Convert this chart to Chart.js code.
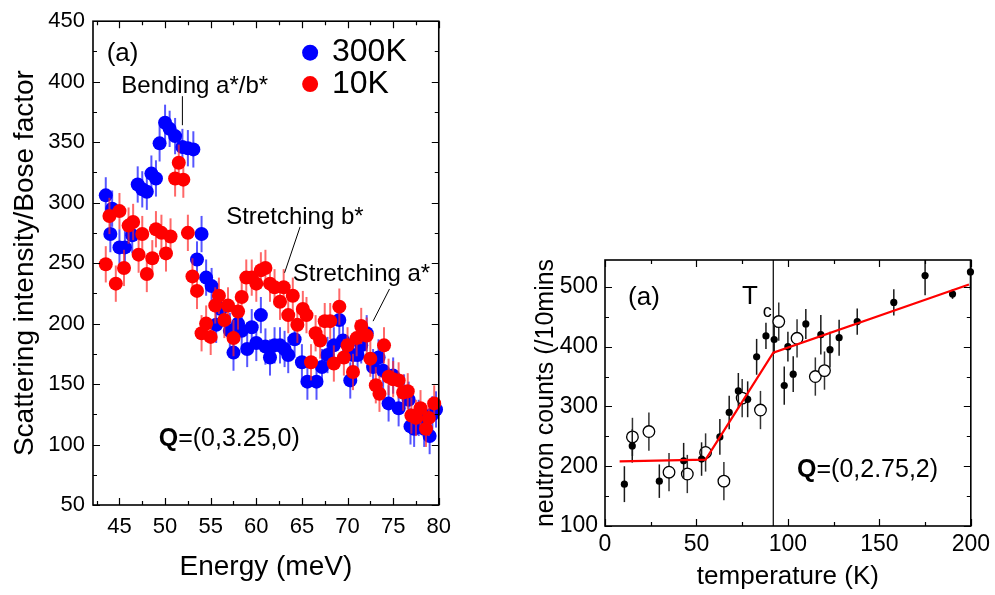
<!DOCTYPE html>
<html>
<head>
<meta charset="utf-8">
<script src="https://cdn.jsdelivr.net/npm/chart.js@4.4.0/dist/chart.umd.min.js"></script>
<style>
    body { margin: 0; background: #fff; width: 995px; height: 595px; overflow: hidden; position: relative; }
    canvas { position: absolute; top: 0; }
    #energyChart { left: 0; }
    #tempChart { left: 500px; }
</style>
</head>
<body>
<canvas id="energyChart" width="460" height="595"></canvas>
<canvas id="tempChart" width="495" height="595"></canvas>
<script>
// left panel: Q=(0,3.25,0)
const energy300 = [43.5, 44.0, 44.2, 45.0, 45.6, 46.4, 47.0, 47.5, 48.0, 48.5, 49.0, 49.4, 50.0, 50.5, 51.1, 51.9, 52.5, 53.1,
    53.5, 54.0, 54.5, 55.1, 55.6, 56.1, 57.1, 57.5, 58.0, 58.4, 59.0, 59.5, 60.0, 60.5, 61.0, 61.5, 62.0, 62.6, 63.1, 63.5,
    64.2, 65.0, 65.6, 66.6, 67.2, 67.8, 68.5, 69.1, 69.5, 70.3, 70.6, 71.1, 71.5, 72.1, 72.8, 73.4, 73.9, 74.5, 75.0, 75.6,
    76.2, 76.7, 76.9, 77.3, 77.8, 78.4, 79.0, 79.3, 79.7];
const intensity300 = [306, 274, 295, 263, 263, 273, 315, 311, 309, 324, 320, 349, 366, 361, 355, 346, 345, 344,
    253, 274, 238, 231, 199, 212, 194, 176, 200, 194, 179, 197, 184, 207, 181, 172, 182, 182, 179, 174,
    187, 168, 152, 152, 164, 174, 182, 203, 186, 153, 174, 174, 182, 192, 164, 172, 161, 134, 157, 130,
    143, 137, 115, 113, 122, 113, 107, 125, 129];

const energy10 = [43.5, 43.9, 44.6, 45.0, 45.5, 46.0, 46.5, 47.1, 47.5, 48.0, 48.6, 49.0, 49.6, 50.1, 50.6, 51.1, 51.5, 52.0,
    52.5, 53.0, 53.5, 54.0, 54.5, 55.0, 55.5, 55.9, 56.5, 56.9, 57.5, 58.0, 58.4, 58.9, 59.5, 60.0, 60.5, 61.0, 61.5, 62.0,
    62.6, 63.0, 63.5, 64.0, 64.5, 65.1, 65.5, 66.0, 66.5, 67.0, 67.5, 68.1, 68.5, 69.1, 69.6, 70.0, 70.6, 71.0, 71.5, 72.1,
    72.5, 73.1, 73.5, 74.0, 74.5, 75.0, 75.6, 76.1, 76.6, 77.0, 77.5, 78.0, 78.6, 78.9, 79.5];
const intensity10 = [249, 289, 233, 293, 246, 281, 284, 257, 274, 241, 254, 278, 275, 258, 272, 320, 333, 319,
    275, 239, 227, 192, 200, 189, 215, 223, 203, 215, 188, 210, 222, 238, 238, 233, 244, 246, 233, 230,
    218, 230, 207, 223, 199, 212, 207, 168, 192, 186, 202, 202, 167, 214, 172, 182, 160, 188, 198, 190,
    171, 149, 142, 182, 156, 154, 153, 143, 144, 124, 122, 130, 113, 122, 134];
const intensityErr = 15;

// right panel: Q=(0,2.75,2)
const tempFilled = [10.6, 14.9, 29.7, 43.0, 52.8, 62.8, 67.9, 72.9, 78.0, 82.9, 88.0, 92.5, 98.0, 100.0, 102.9,
    109.8, 118.0, 123.0, 128.0, 137.9, 157.9, 175.0, 190.0, 199.8];
const countsFilled = [170, 234, 175, 209, 212, 249, 290, 326, 312, 383, 418, 412, 335, 400, 354,
    438, 420, 395, 415, 442, 474, 519, 488, 525];
const errFilled = [30, 28, 28, 30, 28, 30, 28, 30, 30, 30, 22, 24, 32, 25, 30,
    25, 33, 30, 30, 22, 22, 33, 8, 30];
const tempOpen = [15, 24, 35, 45, 55, 65, 75, 85, 95, 105, 115, 120];
const countsOpen = [249, 258, 190, 187, 223, 175, 314, 294, 442, 414, 350, 360];
const errOpen = 32;
const fitTemp = [8, 55, 92, 199];
const fitCounts = [208, 211, 390, 504];
const tcTemp = 92;

const FONT = "'Liberation Sans', Arial, Helvetica, sans-serif";
Chart.defaults.font.family = FONT;
Chart.defaults.color = "#000";

function toPoints(xs, ys) {
    return xs.map((x, i) => ({ x: x, y: ys[i] }));
}

const errorBars = {
    id: "errorBars",
    beforeDatasetDraw(chart, args) {
        const ds = chart.data.datasets[args.index];
        if (ds.yErr == null)
            return;
        const { ctx, scales: { x, y } } = chart;
        ctx.save();
        ctx.strokeStyle = ds.errColor;
        ctx.lineWidth = ds.errWidth || 1.5;
        ds.data.forEach((p, i) => {
            const e = Array.isArray(ds.yErr) ? ds.yErr[i] : ds.yErr;
            const px = x.getPixelForValue(p.x);
            const top = Math.max(y.getPixelForValue(p.y + e), y.top);
            ctx.beginPath();
            ctx.moveTo(px, y.getPixelForValue(p.y - e));
            ctx.lineTo(px, top);
            ctx.stroke();
        });
        ctx.restore();
    }
};

function isMultiple(v, step) {
    return Math.abs(v / step - Math.round(v / step)) < 1e-6;
}

const frame = {
    id: "frame",
    beforeDatasetsDraw(chart, args, opts) {
        const { ctx, scales: { x, y } } = chart;
        (opts.vlines || []).forEach(v => {
            const px = x.getPixelForValue(v);
            ctx.save();
            ctx.strokeStyle = "#000";
            ctx.lineWidth = 1.2;
            ctx.beginPath();
            ctx.moveTo(px, y.bottom);
            ctx.lineTo(px, y.top);
            ctx.stroke();
            ctx.restore();
        });
    },
    afterDraw(chart, args, opts) {
        const { ctx, chartArea: a, scales: { x, y } } = chart;
        ctx.save();
        ctx.strokeStyle = "#000";
        ctx.lineWidth = 1.2;
        ctx.beginPath();
        for (let v = Math.ceil(x.min / opts.xMinor) * opts.xMinor; v <= x.max + 1e-9; v += opts.xMinor) {
            const px = Math.round(x.getPixelForValue(v)) + 0.5;
            const len = isMultiple(v, opts.xMajor) ? 7 : 4;
            ctx.moveTo(px, a.bottom); ctx.lineTo(px, a.bottom - len);
            ctx.moveTo(px, a.top); ctx.lineTo(px, a.top + len);
        }
        for (let v = Math.ceil(y.min / opts.yMinor) * opts.yMinor; v <= y.max + 1e-9; v += opts.yMinor) {
            const py = Math.round(y.getPixelForValue(v)) + 0.5;
            const len = isMultiple(v, opts.yMajor) ? 7 : 4;
            ctx.moveTo(a.left, py); ctx.lineTo(a.left + len, py);
            ctx.moveTo(a.right, py); ctx.lineTo(a.right - len, py);
        }
        ctx.stroke();
        ctx.lineWidth = 1.6;
        ctx.strokeRect(a.left, a.top, a.right - a.left, a.bottom - a.top);
        ctx.restore();
    }
};

const notes = {
    id: "notes",
    afterDraw(chart, args, opts) {
        const { ctx, scales: { x, y } } = chart;
        ctx.save();
        ctx.strokeStyle = "#000";
        ctx.lineWidth = 1;
        (opts.lines || []).forEach(l => {
            ctx.beginPath();
            ctx.moveTo(x.getPixelForValue(l[0]), y.getPixelForValue(l[1]));
            ctx.lineTo(x.getPixelForValue(l[2]), y.getPixelForValue(l[3]));
            ctx.stroke();
        });
        (opts.markers || []).forEach(m => {
            ctx.fillStyle = m.color;
            ctx.beginPath();
            ctx.arc(x.getPixelForValue(m.x), y.getPixelForValue(m.y), 8, 0, Math.PI * 2);
            ctx.fill();
        });
        ctx.fillStyle = "#000";
        ctx.textBaseline = "middle";
        ctx.textAlign = "left";
        (opts.texts || []).forEach(t => {
            let px = x.getPixelForValue(t.x);
            const py = y.getPixelForValue(t.y);
            t.parts.forEach(p => {
                ctx.font = (p.bold ? "bold " : "") + t.size + "px " + FONT;
                ctx.fillText(p.text, px, py);
                px += ctx.measureText(p.text).width;
            });
        });
        ctx.restore();
    }
};

function axis(opts) {
    return {
        type: "linear",
        min: opts.min,
        max: opts.max,
        grid: { display: false, drawTicks: false },
        border: { display: false },
        ticks: {
            stepSize: opts.step,
            includeBounds: false,
            maxRotation: 0,
            padding: opts.tickPad,
            color: "#000",
            font: { size: opts.tickSize }
        },
        title: {
            display: true,
            text: opts.title,
            color: "#000",
            font: { size: opts.titleSize },
            padding: opts.titlePad
        },
        afterFit: opts.fit
    };
}

new Chart(document.getElementById("energyChart"), {
    type: "scatter",
    data: {
        datasets: [
            {
                label: "10K",
                data: toPoints(energy10, intensity10),
                order: 0,
                pointRadius: 7,
                pointBackgroundColor: "#ff0000",
                pointBorderWidth: 0,
                yErr: intensityErr,
                errColor: "rgba(255,40,40,0.7)",
                errWidth: 2,
                clip: false
            },
            {
                label: "300K",
                data: toPoints(energy300, intensity300),
                order: 1,
                pointRadius: 7,
                pointBackgroundColor: "#0000ff",
                pointBorderWidth: 0,
                yErr: intensityErr,
                errColor: "rgba(30,30,255,0.75)",
                errWidth: 2,
                clip: false
            }
        ]
    },
    options: {
        responsive: false,
        devicePixelRatio: 1,
        animation: false,
        events: [],
        layout: { padding: { top: 12, right: 17, left: 0, bottom: 0 } },
        scales: {
            x: axis({
                min: 42.1, max: 80, step: 5, tickPad: 9, tickSize: 22,
                title: "Energy (meV)", titleSize: 28, titlePad: { top: 0, bottom: 11 },
                fit: s => { s.height = 90; }
            }),
            y: axis({
                min: 50, max: 450, step: 50, tickPad: 8, tickSize: 22,
                title: "Scattering intensity/Bose factor", titleSize: 28, titlePad: { top: 8, bottom: 0 },
                fit: s => { s.width = 93; }
            })
        },
        plugins: {
            legend: { display: false },
            tooltip: { enabled: false },
            frame: { xMajor: 5, xMinor: 2.5, yMajor: 50, yMinor: 25 },
            notes: {
                lines: [[51.9, 388, 51.9, 364], [64.8, 280, 63.1, 242], [74.6, 228.6, 72.8, 202]],
                markers: [{ x: 65.9, y: 424, color: "#0000ff" }, { x: 65.9, y: 398, color: "#ff0000" }],
                texts: [
                    { x: 43.6, y: 423, size: 26, parts: [{ text: "(a)" }] },
                    { x: 68.3, y: 424, size: 32, parts: [{ text: "300K" }] },
                    { x: 68.3, y: 398, size: 32, parts: [{ text: "10K" }] },
                    { x: 45.2, y: 396.5, size: 24, parts: [{ text: "Bending a*/b*" }] },
                    { x: 56.7, y: 288, size: 24, parts: [{ text: "Stretching b*" }] },
                    { x: 64.0, y: 241, size: 24, parts: [{ text: "Stretching a*" }] },
                    { x: 49.3, y: 104.5, size: 25, parts: [{ text: "Q", bold: true }, { text: "=(0,3.25,0)" }] }
                ]
            }
        }
    },
    plugins: [errorBars, frame, notes]
});

new Chart(document.getElementById("tempChart"), {
    type: "scatter",
    data: {
        datasets: [
            {
                label: "fit",
                data: toPoints(fitTemp, fitCounts),
                order: 0,
                showLine: true,
                borderColor: "#ff0000",
                borderWidth: 2.2,
                pointRadius: 0,
                fill: false
            },
            {
                label: "filled",
                data: toPoints(tempFilled, countsFilled),
                order: 1,
                pointRadius: 3.6,
                pointBackgroundColor: "#000",
                pointBorderWidth: 0,
                yErr: errFilled,
                errColor: "#1a1a1a",
                errWidth: 1.5,
                clip: false
            },
            {
                label: "open",
                data: toPoints(tempOpen, countsOpen),
                order: 2,
                pointRadius: 5.8,
                pointBackgroundColor: "#fff",
                pointBorderColor: "#000",
                pointBorderWidth: 1.3,
                yErr: errOpen,
                errColor: "#333",
                errWidth: 1.5,
                clip: false
            }
        ]
    },
    options: {
        responsive: false,
        devicePixelRatio: 1,
        animation: false,
        events: [],
        layout: { padding: { top: 260, right: 24, left: 0, bottom: 0 } },
        scales: {
            x: axis({
                min: 0, max: 200, step: 50, tickPad: 5, tickSize: 23,
                title: "temperature (K)", titleSize: 26, titlePad: { top: 0, bottom: 3 },
                fit: s => { s.height = 69; }
            }),
            y: axis({
                min: 100, max: 545, step: 100, tickPad: 7, tickSize: 23,
                title: "neutron counts (/10mins", titleSize: 25, titlePad: { top: 31, bottom: 0 },
                fit: s => { s.width = 105; }
            })
        },
        plugins: {
            legend: { display: false },
            tooltip: { enabled: false },
            frame: { xMajor: 50, xMinor: 25, yMajor: 100, yMinor: 50, vlines: [tcTemp] },
            notes: {
                texts: [
                    { x: 12.6, y: 482, size: 26, parts: [{ text: "(a)" }] },
                    { x: 74.9, y: 483, size: 26, parts: [{ text: "T" }] },
                    { x: 86.3, y: 458, size: 18, parts: [{ text: "c" }] },
                    { x: 105, y: 194, size: 25, parts: [{ text: "Q", bold: true }, { text: "=(0,2.75,2)" }] }
                ]
            }
        }
    },
    plugins: [errorBars, frame, notes]
});
</script>
</body>
</html>
